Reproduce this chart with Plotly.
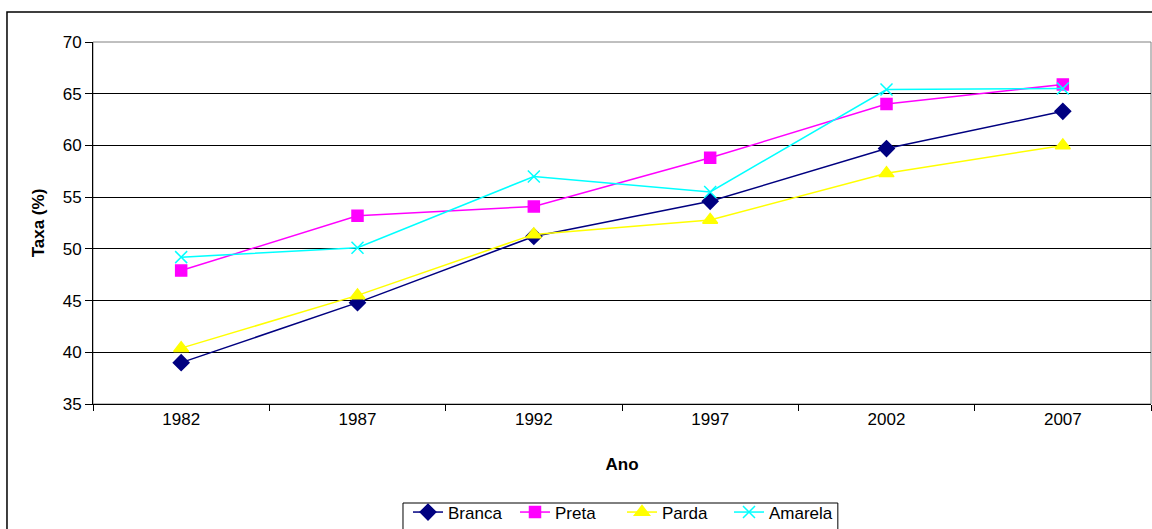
import plotly.graph_objects as go

anos = ["1982", "1987", "1992", "1997", "2002", "2007"]
branca = [39.0, 44.8, 51.2, 54.6, 59.7, 63.3]
preta = [47.9, 53.2, 54.1, 58.8, 64.0, 65.9]
parda = [40.4, 45.5, 51.4, 52.8, 57.3, 60.0]
amarela = [49.2, 50.1, 57.0, 55.5, 65.4, 65.5]

series = [
    ("Branca", branca, "#000080", "diamond", 12),
    ("Preta", preta, "#FF00FF", "square", 11),
    ("Parda", parda, "#FFFF00", "triangle-up", 13),
    ("Amarela", amarela, "#00FFFF", "x-thin-open", 12),
]

fig = go.Figure()
for nome, valores, cor, simbolo, tam in series:
    fig.add_trace(go.Scatter(
        x=anos, y=valores, name=nome, mode="lines+markers",
        line=dict(color=cor, width=1.5),
        marker=dict(symbol=simbolo, size=tam, color=cor,
                    line=dict(color=cor, width=1.5)),
    ))

fig.update_layout(
    width=1152, height=529,
    margin=dict(l=93, r=1, t=42, b=125, autoexpand=False),
    paper_bgcolor="white", plot_bgcolor="white",
    font=dict(family="Arial, Liberation Sans, sans-serif", size=17, color="black"),
    showlegend=True,
    legend=dict(
        orientation="h", x=0.5, xanchor="center", y=-0.250, yanchor="top",
        borderwidth=0, font=dict(size=17), tracegroupgap=0,
        entrywidth=62, entrywidthmode="pixels",
        bgcolor="rgba(0,0,0,0)",
    ),
    xaxis=dict(
        type="category", range=[-0.5, 5.5], automargin=False,
        showline=True, linecolor="black", linewidth=1,
        ticks="outside", tickson="boundaries", ticklen=6, tickcolor="black",
        showgrid=False, mirror=False,
        title=dict(text="<b>Ano</b>", font=dict(size=17), standoff=29),
    ),
    yaxis=dict(
        range=[35, 70], dtick=5, automargin=False,
        showline=True, linecolor="black", linewidth=1,
        ticks="outside", ticklen=7, tickcolor="black",
        showgrid=True, gridcolor="black", gridwidth=1, zeroline=False,
        title=dict(text="<b>Taxa (%)</b>", font=dict(size=17), standoff=13),
    ),
    shapes=[
        # plot area frame
        dict(type="rect", xref="paper", yref="paper", x0=0, x1=1, y0=0, y1=1,
             line=dict(color="#808080", width=1), layer="below"),
        # legend box
        dict(type="rect", xref="paper", yref="paper", x0=0.293, x1=0.704,
             y0=-0.4, y1=-0.2735, line=dict(color="black", width=1)),
        # outer chart frame
        dict(type="rect", xref="paper", yref="paper", x0=-0.0813, x1=1.2,
             y0=-0.6, y1=1.083, line=dict(color="black", width=1.5)),
    ],
)

fig.write_html("out.html")
